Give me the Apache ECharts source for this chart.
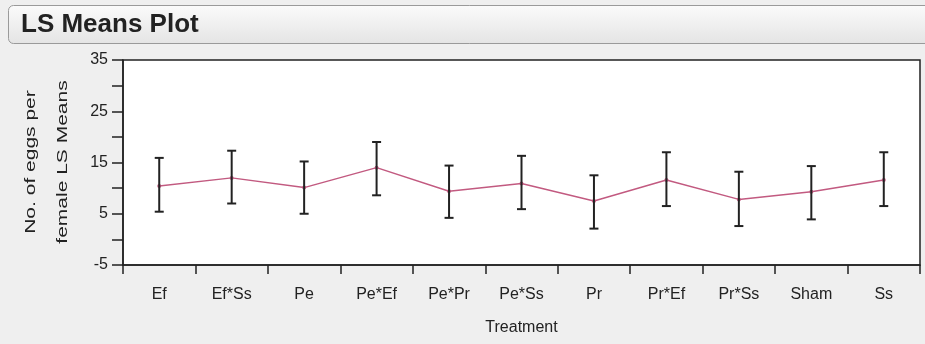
<!DOCTYPE html>
<html>
<head>
<meta charset="utf-8">
<script src="https://cdn.jsdelivr.net/npm/echarts@6/dist/echarts.min.js"></script>
<style>
  html, body { margin: 0; padding: 0; background: #efefef; }
  #chart { width: 925px; height: 344px; }
</style>
</head>
<body>
<div id="chart"></div>
<script>
// 处理组
const treatments = ["Ef", "Ef*Ss", "Pe", "Pe*Ef", "Pe*Pr", "Pe*Ss", "Pr", "Pr*Ef", "Pr*Ss", "Sham", "Ss"];
// LS 均值
const lsMeans = [10.4, 12.0, 10.1, 14.0, 9.4, 10.9, 7.5, 11.6, 7.8, 9.3, 11.6];
// 误差线下限 / 上限
const lowerBars = [5.4, 7.0, 5.0, 8.6, 4.2, 5.9, 2.1, 6.5, 2.6, 3.9, 6.5];
const upperBars = [15.9, 17.3, 15.2, 19.0, 14.4, 16.3, 12.5, 17.0, 13.2, 14.3, 17.0];
const yTicks = [-5, 5, 15, 25, 35];
// y 轴标题（两行）
const yNameLines = ["No. of eggs per", "female LS Means"];

const font = '"Liberation Sans", Arial, sans-serif';

const chart = echarts.init(document.getElementById("chart"));

const errorData = treatments.map((t, i) => [i, lowerBars[i], upperBars[i]]);

// 竖排的 y 轴标题，原图文字被纵向拉长，这里用 scaleX 模拟
const yNameGraphics = yNameLines.map((txt, i) => ({
  type: "text",
  x: 31 + i * 32,
  y: 162,
  rotation: Math.PI / 2,
  scaleX: 1.4,
  style: {
    text: txt,
    font: '15px "Liberation Sans", Arial, sans-serif',
    fill: "#222",
    align: "center",
    verticalAlign: "middle"
  }
}));

const option = {
  backgroundColor: "#efefef",
  animation: false,
  graphic: [
    {
      type: "rect",
      shape: { x: 8.5, y: 5.5, width: 930, height: 38, r: 5 },
      style: {
        fill: new echarts.graphic.LinearGradient(0, 0, 0, 1, [
          { offset: 0, color: "#fbfbfb" },
          { offset: 1, color: "#e4e4e4" }
        ]),
        stroke: "#9a9a9a",
        lineWidth: 1
      }
    },
    {
      type: "text",
      left: 21,
      top: 12,
      style: {
        text: "LS Means Plot",
        font: 'bold 26px "Liberation Sans", Arial, sans-serif',
        fill: "#222"
      }
    },
    ...yNameGraphics
  ],
  grid: {
    left: 123,
    right: 5,
    top: 60,
    bottom: 79,
    outerBoundsMode: "none",
    show: true,
    backgroundColor: "#fff",
    borderColor: "#222",
    borderWidth: 1.5
  },
  xAxis: {
    type: "category",
    data: treatments,
    boundaryGap: true,
    name: "Treatment",
    nameLocation: "middle",
    nameGap: 55,
    nameTextStyle: { fontFamily: font, fontSize: 16, color: "#222" },
    axisLine: { onZero: false, lineStyle: { color: "#222", width: 1.5 } },
    axisTick: { show: true, length: 9, lineStyle: { color: "#222", width: 1.5 } },
    axisLabel: { fontFamily: font, fontSize: 16, color: "#222", margin: 22 },
    splitLine: { show: false }
  },
  yAxis: {
    type: "value",
    min: -5,
    max: 35,
    interval: 5,
    axisLine: { show: true, lineStyle: { color: "#222", width: 1.5 } },
    axisTick: { show: true, length: 11, lineStyle: { color: "#222", width: 1.5 } },
    axisLabel: {
      fontFamily: font,
      fontSize: 16,
      color: "#222",
      margin: 15,
      formatter: v => (yTicks.includes(v) ? String(v) : "")
    },
    splitLine: { show: false }
  },
  series: [
    {
      type: "line",
      data: lsMeans,
      symbol: "emptyCircle",
      symbolSize: 2,
      lineStyle: { color: "#c25a80", width: 1.5 },
      itemStyle: { color: "#c25a80" },
      z: 3
    },
    {
      type: "custom",
      data: errorData,
      z: 4,
      renderItem(params, api) {
        const x = api.coord([api.value(0), api.value(1)])[0];
        const yLo = api.coord([api.value(0), api.value(1)])[1];
        const yHi = api.coord([api.value(0), api.value(2)])[1];
        const half = 4.5;
        const style = { stroke: "#222", lineWidth: 2 };
        return {
          type: "group",
          children: [
            { type: "line", shape: { x1: x, y1: yHi, x2: x, y2: yLo }, style },
            { type: "line", shape: { x1: x - half, y1: yHi, x2: x + half, y2: yHi }, style },
            { type: "line", shape: { x1: x - half, y1: yLo, x2: x + half, y2: yLo }, style }
          ]
        };
      }
    }
  ]
};

chart.setOption(option);
</script>
</body>
</html>
